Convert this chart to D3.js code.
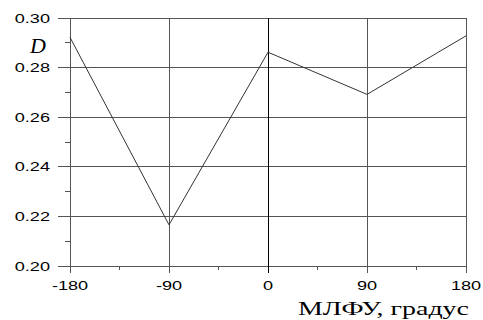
<!DOCTYPE html>
<html>
<head>
<meta charset="utf-8">
<script src="https://cdn.jsdelivr.net/npm/d3@7.9.0/dist/d3.min.js"></script>
<style>
  body { margin: 0; background: #fff; }
  svg { display: block; }
</style>
</head>
<body>
<svg id="chart" width="483" height="320"></svg>
<script>
// data
const angles = [-180, -90, 0, 90, 180];
const dValues = [0.2922, 0.2166, 0.2862, 0.2692, 0.2928];
const xTicks = [-180, -90, 0, 90, 180];
const yTicks = [0.20, 0.22, 0.24, 0.26, 0.28, 0.30];
const xMinor = [-135, -45, 45, 135];
const yMinor = [0.21, 0.23, 0.25, 0.27, 0.29];

const svg = d3.select("#chart");
const margin = { top: 18, right: 17, bottom: 54, left: 70 };
const W = 483, H = 320;
const innerW = W - margin.left - margin.right;
const innerH = H - margin.top - margin.bottom;
const g = svg.append("g").attr("transform", `translate(${margin.left},${margin.top})`);

const x = d3.scaleLinear().domain([-180, 180]).range([0, innerW]);
const y = d3.scaleLinear().domain([0.20, 0.30]).range([innerH, 0]);

const gridColor = "#555";
const stretch = 1.45; // tick labels are drawn wide in the original

// horizontal grid, extending left past the axis as major ticks
g.selectAll(".hgrid").data(yTicks).join("line")
  .attr("x1", -12).attr("x2", innerW)
  .attr("y1", d => y(d)).attr("y2", d => y(d))
  .attr("stroke", gridColor).attr("stroke-width", 1)
  .attr("shape-rendering", "crispEdges");

// vertical grid, extending below the axis
g.selectAll(".vgrid").data(xTicks).join("line")
  .attr("x1", d => x(d)).attr("x2", d => x(d))
  .attr("y1", 0).attr("y2", innerH + 7)
  .attr("stroke", d => d === 0 ? "#000" : gridColor).attr("stroke-width", 1)
  .attr("shape-rendering", "crispEdges");

// minor ticks
g.selectAll(".ymin").data(yMinor).join("line")
  .attr("x1", -5).attr("x2", 0)
  .attr("y1", d => y(d)).attr("y2", d => y(d))
  .attr("stroke", gridColor).attr("shape-rendering", "crispEdges");

g.selectAll(".xmin").data(xMinor).join("line")
  .attr("x1", d => x(d)).attr("x2", d => x(d))
  .attr("y1", innerH).attr("y2", innerH + 4)
  .attr("stroke", gridColor).attr("shape-rendering", "crispEdges");

// tick labels
const fmtY = d3.format(".2f");
g.selectAll(".ylab").data(yTicks).join("text")
  .attr("transform", d => `translate(-20,${y(d) + 4.5}) scale(${stretch},1)`)
  .attr("text-anchor", "end")
  .attr("font-family", "Liberation Sans, Arial, sans-serif")
  .attr("font-size", 12.5)
  .attr("fill", "#000")
  .text(d => fmtY(d));

g.selectAll(".xlab").data(xTicks).join("text")
  .attr("transform", d => `translate(${x(d)},${innerH + 24}) scale(${stretch},1)`)
  .attr("text-anchor", "middle")
  .attr("font-family", "Liberation Sans, Arial, sans-serif")
  .attr("font-size", 12.5)
  .attr("fill", "#000")
  .text(d => String(d).replace("-", "\u2011"));

// data line
const line = d3.line().x((d, i) => x(angles[i])).y(d => y(d));
g.append("path")
  .datum(dValues)
  .attr("d", line)
  .attr("fill", "none")
  .attr("stroke", "#333")
  .attr("stroke-width", 1);

// axis titles
svg.append("text")
  .attr("x", 30).attr("y", 53)
  .attr("font-family", "Liberation Serif, Times New Roman, serif")
  .attr("font-style", "italic")
  .attr("font-size", 22)
  .attr("fill", "#000")
  .text("D");

svg.append("text")
  .attr("x", 298).attr("y", 315)
  .attr("font-family", "Liberation Serif, Times New Roman, serif")
  .attr("font-size", 19)
  .attr("textLength", 171)
  .attr("lengthAdjust", "spacingAndGlyphs")
  .attr("fill", "#000")
  .text("МЛФУ, градус");
</script>
</body>
</html>
